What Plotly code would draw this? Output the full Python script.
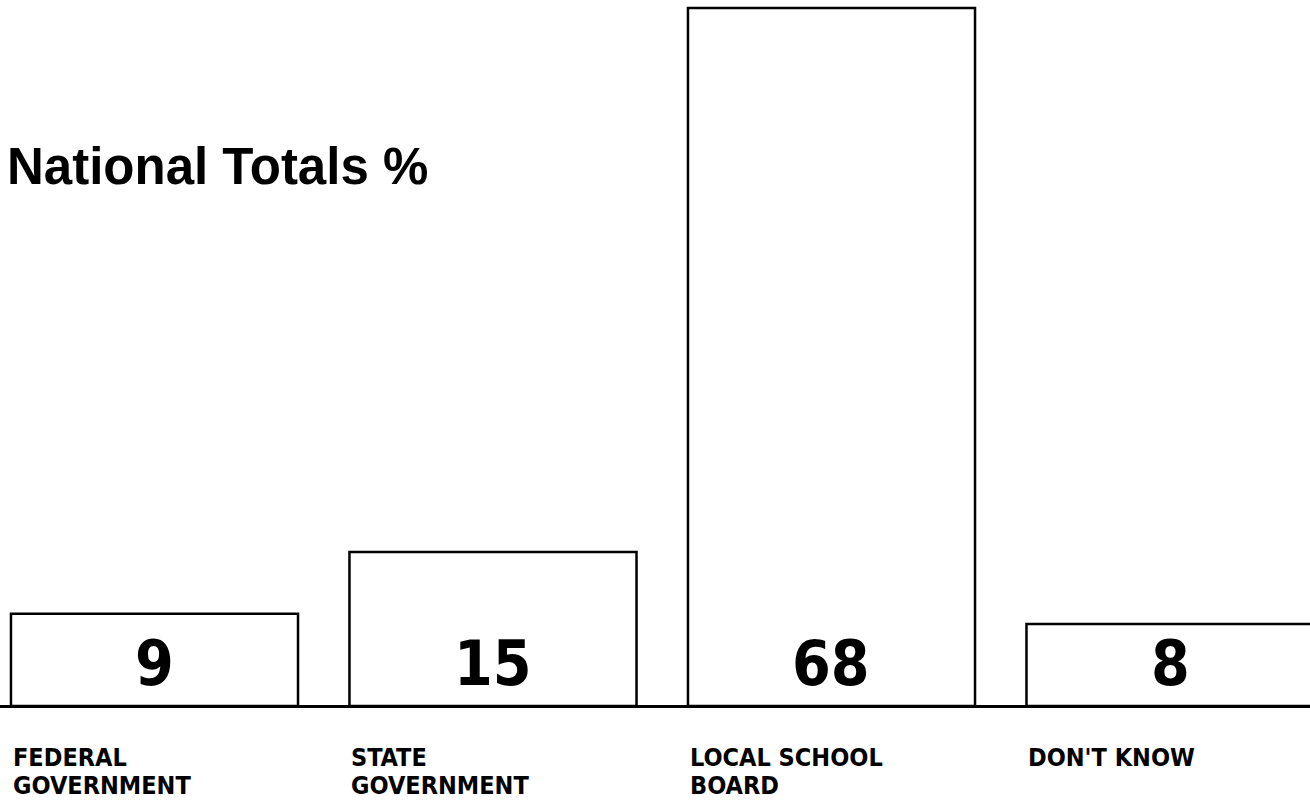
import plotly.graph_objects as go

categories = ["FEDERAL<br>GOVERNMENT", "STATE<br>GOVERNMENT", "LOCAL SCHOOL<br>BOARD", "DON'T KNOW"]
values = [9, 15, 68, 8]
title_text = "National Totals %"

W, H = 1310, 806
x_idx = list(range(len(categories)))
bar_width = 0.848

fig = go.Figure()
fig.add_trace(go.Bar(
    x=x_idx, y=values, width=bar_width,
    marker=dict(color="white", line=dict(color="black", width=2.5)),
    hoverinfo="skip", showlegend=False,
))

COND = "DejaVu Sans Condensed, Liberation Sans Narrow, Liberation Sans, sans-serif"

annotations = []
for xi, v in zip(x_idx, values):
    annotations.append(dict(
        x=xi, y=4.1, xref="x", yref="y", text=f"<b>{v}</b>", showarrow=False,
        xanchor="center", yanchor="middle",
        font=dict(family=COND, size=62, color="black"),
    ))
line_tops = [741, 769]
for xi, c in zip(x_idx, categories):
    for k, line in enumerate(c.split("<br>")):
        annotations.append(dict(
            x=xi - bar_width / 2, y=1 - line_tops[k] / H, xref="x", yref="paper",
            text=f"<b>{line}</b>", showarrow=False, xanchor="left", yanchor="top",
            align="left", font=dict(family=COND, size=25, color="black"),
        ))
annotations.append(dict(
    x=5 / W, y=1 - 166 / H, xref="paper", yref="paper", text=f"<b>{title_text}</b>",
    showarrow=False, xanchor="left", yanchor="middle",
    font=dict(family="Liberation Sans, Arial, sans-serif", size=51, color="black"),
))

fig.update_layout(
    width=W, height=H,
    margin=dict(l=0, r=0, t=0, b=0),
    paper_bgcolor="white", plot_bgcolor="white",
    annotations=annotations,
    xaxis=dict(range=[-0.4564, 3.4136], showgrid=False, zeroline=False,
               showticklabels=False, ticks="", showline=False),
    yaxis=dict(range=[-9.74, 68.78], showgrid=False, zeroline=True,
               zerolinecolor="black", zerolinewidth=2.5,
               showticklabels=False, ticks="", showline=False),
)

fig.write_html("out.html", config={"displayModeBar": False},
               post_script="document.body.style.margin='0';document.body.style.overflow='hidden';")
